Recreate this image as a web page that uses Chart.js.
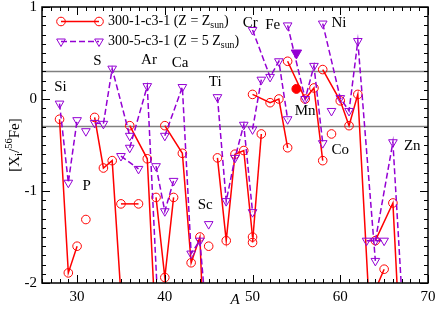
<!DOCTYPE html>
<html>
<head>
<meta charset="utf-8">
<script src="https://cdn.jsdelivr.net/npm/chart.js@4.4.1/dist/chart.umd.min.js"></script>
<style>
  html, body { margin: 0; padding: 0; background: #fff; }
</style>
</head>
<body>
<canvas id="chart" width="436" height="311"></canvas>
<script>
// isotopes grouped by element; lines only join isotopes of one element
const elements = ["Si", "P", "S", "Cl", "Ar", "K", "Ca", "Sc", "Ti", "V", "Cr", "Fe", "Co", "Ni", "Cu", "Zn"];
const isotopes = [
  [28, 29, 30], [31], [32, 33, 34, 36], [35, 37], [36, 38, 40], [39, 40, 41],
  [40, 42, 43, 44, 46, 48], [45], [46, 47, 48, 49, 50], [50, 51], [50, 52, 53, 54],
  [54, 56, 57, 58], [59], [58, 60, 61, 62, 64], [63, 65], [64, 66, 67, 68, 70]
];
// [X_i/56Fe], model 300-1-c3-1 (Z = Zsun)
const zSunValues = [
  [-0.22, -1.89, -1.6], [-1.31], [-0.2, -0.75, -0.67, -3.6], [-1.14, -1.14],
  [-0.29, -0.65, -4.5], [-1.07, -1.94, -1.07], [-0.29, -0.59, -1.78, -1.5, -6.5, -5.0],
  [-1.6], [-0.64, -1.54, -0.6, -0.56, -1.5], [-1.56, -0.38], [0.05, -0.04, 0.0, -0.53],
  [0.41, 0.0, 0.12, -0.67], [-0.38], [0.32, -0.02, -0.29, 0.05, -3.5], [-2.3, -1.85],
  [-1.54, -1.13, -3.0, -3.5, -4.0]
];
// [X_i/56Fe], model 300-5-c3-1 (Z = 5 Zsun)
const z5SunValues = [
  [-0.05, -0.91, -0.23], [-0.35], [-0.26, -0.27, 0.33, -0.4], [-0.62, -0.76],
  [-0.53, 0.14, -3.8], [-0.73, -1.22, -0.89], [-0.4, 0.13, -1.68, -1.54, -3.8, -4.0],
  [-1.36], [0.02, -1.11, -0.64, -0.28, -1.23], [-0.33, 0.21], [0.75, 0.24, 0.41, -0.22],
  [0.8, 0.0, 0.36, -0.48], [-0.13], [0.82, 0.01, -0.13, 0.63, -1.76], [-1.54, -1.54],
  [-1.54, -0.47, -2.1, -2.5, -3.0]
];
// 55Mn, drawn with filled symbols
const mnA = [55];
const mnZSun = [0.11];
const mnZ5Sun = [0.5];

const refLines = [0.3, -0.3];
const xTicks = [30, 40, 50, 60, 70];
const yTicks = [-2, -1, 0, 1];

const labelNames = ["Si", "P", "S", "Ar", "Ca", "Sc", "Ti", "Cr", "Fe", "Mn", "Co", "Ni", "Zn"];
const labelA = [28.1, 31.1, 32.33, 38.2, 41.75, 44.6, 45.75, 49.75, 52.3, 56.0, 60.0, 59.85, 68.2];
const labelY = [0.13, -0.95, 0.41, 0.42, 0.39, -1.15, 0.18, 0.83, 0.8, -0.13, -0.55, 0.82, -0.51];

const RED = "#ff0000";
const VIOLET = "#9400d3";
const FONT = "Liberation Serif";

function makeSets(values, color, dashed, order) {
  return elements.map((el, e) => ({
    label: el,
    data: isotopes[e].map((a, i) => ({ x: a, y: values[e][i] })),
    showLine: true,
    borderColor: color,
    backgroundColor: "transparent",
    borderWidth: 1.5,
    borderDash: dashed ? [6, 3] : [],
    pointStyle: dashed ? "triangle" : "circle",
    pointRotation: dashed ? 180 : 0,
    pointRadius: dashed ? 5 : 4.3,
    pointBorderColor: color,
    pointBackgroundColor: "transparent",
    pointBorderWidth: 1,
    order: order,
  }));
}

const datasets = [
  ...makeSets(zSunValues, RED, false, 2),
  ...makeSets(z5SunValues, VIOLET, true, 1),
  {
    label: "Mn", data: mnA.map((a, i) => ({ x: a, y: mnZSun[i] })),
    pointStyle: "circle", pointRadius: 4.5, pointBackgroundColor: RED, pointBorderColor: RED, order: 0,
  },
  {
    label: "Mn", data: mnA.map((a, i) => ({ x: a, y: mnZ5Sun[i] })),
    pointStyle: "triangle", pointRotation: 180, pointRadius: 6, pointBackgroundColor: VIOLET, pointBorderColor: VIOLET, order: 0,
  },
];

// draws text pieces with sub/superscripts, returns width
function richText(ctx, parts, x, y, size, measureOnly) {
  let w = 0;
  parts.forEach((p) => {
    const s = p.sub || p.sup ? size * 0.7 : size;
    ctx.font = s + "px " + FONT;
    const dy = p.sub ? size * 0.3 : p.sup ? -size * 0.4 : 0;
    if (!measureOnly) ctx.fillText(p.t, x + w, y + dy);
    w += ctx.measureText(p.t).width;
  });
  return w;
}

function glyph(ctx, kind, x, y) {
  ctx.beginPath();
  if (kind === "circle") {
    ctx.arc(x, y, 4.3, 0, Math.PI * 2);
  } else {
    const r = 5;
    ctx.moveTo(x, y + r);
    ctx.lineTo(x - r * Math.sin(Math.PI / 3), y - r / 2);
    ctx.lineTo(x + r * Math.sin(Math.PI / 3), y - r / 2);
    ctx.closePath();
  }
  ctx.stroke();
}

const decorPlugin = {
  id: "decor",
  beforeDatasetsDraw(chart) {
    const { ctx, chartArea: ca, scales } = chart;
    ctx.save();
    ctx.strokeStyle = "#808080";
    ctx.lineWidth = 1.5;
    refLines.forEach((v) => {
      const py = scales.y.getPixelForValue(v);
      ctx.beginPath();
      ctx.moveTo(ca.left, py);
      ctx.lineTo(ca.right, py);
      ctx.stroke();
    });
    ctx.restore();
  },
  afterDatasetsDraw(chart) {
    const { ctx, chartArea: ca, scales } = chart;
    const x = scales.x, y = scales.y;
    ctx.save();
    ctx.strokeStyle = "#000";
    ctx.lineWidth = 1.5;
    ctx.strokeRect(ca.left, ca.top, ca.right - ca.left, ca.bottom - ca.top);

    ctx.lineWidth = 1;
    ctx.beginPath();
    for (let a = x.min; a <= x.max; a += 1) {
      const px = Math.round(x.getPixelForValue(a)) + 0.5;
      const len = a % 10 === 0 ? 8 : 4;
      ctx.moveTo(px, ca.bottom); ctx.lineTo(px, ca.bottom - len);
      ctx.moveTo(px, ca.top); ctx.lineTo(px, ca.top + len);
    }
    for (let k = y.min * 10; k <= y.max * 10; k += 1) {
      const py = Math.round(y.getPixelForValue(k / 10)) + 0.5;
      const len = k % 10 === 0 ? 8 : 4;
      ctx.moveTo(ca.left, py); ctx.lineTo(ca.left + len, py);
      ctx.moveTo(ca.right, py); ctx.lineTo(ca.right - len, py);
    }
    ctx.stroke();

    // element names
    ctx.fillStyle = "#000";
    ctx.font = "15px " + FONT;
    ctx.textAlign = "center";
    ctx.textBaseline = "middle";
    labelNames.forEach((n, i) => {
      ctx.fillText(n, x.getPixelForValue(labelA[i]), y.getPixelForValue(labelY[i]));
    });

    // legend
    ctx.textAlign = "left";
    const rows = [
      { color: RED, dash: [], kind: "circle", y: 21.5,
        parts: [{ t: "300-1-c3-1 (Z = Z" }, { t: "sun", sub: true }, { t: ")" }] },
      { color: VIOLET, dash: [6, 3], kind: "triangle", y: 41.5,
        parts: [{ t: "300-5-c3-1 (Z = 5 Z" }, { t: "sun", sub: true }, { t: ")" }] },
    ];
    rows.forEach((r) => {
      ctx.strokeStyle = r.color;
      ctx.lineWidth = 1.5;
      ctx.setLineDash(r.dash);
      ctx.beginPath();
      ctx.moveTo(61, r.y); ctx.lineTo(99, r.y);
      ctx.stroke();
      ctx.setLineDash([]);
      ctx.lineWidth = 1;
      glyph(ctx, r.kind, 61, r.y);
      glyph(ctx, r.kind, 99, r.y);
      ctx.fillStyle = "#000";
      richText(ctx, r.parts, 108, r.y, 14);
    });

    // axis titles
    ctx.font = "italic 15px " + FONT;
    ctx.textAlign = "center";
    ctx.fillText("A", (ca.left + ca.right) / 2, 300);

    ctx.translate(15, (ca.top + ca.bottom) / 2);
    ctx.rotate(-Math.PI / 2);
    ctx.textAlign = "left";
    const yParts = [{ t: "[X" }, { t: "i", sub: true }, { t: "/" }, { t: "56", sup: true }, { t: "Fe]" }];
    const w = richText(ctx, yParts, 0, 0, 15, true);
    richText(ctx, yParts, -w / 2, 0, 15);
    ctx.restore();
  },
};

new Chart(document.getElementById("chart").getContext("2d"), {
  type: "scatter",
  data: { datasets: datasets },
  options: {
    responsive: false,
    animation: false,
    devicePixelRatio: 1,
    layout: { padding: { top: 5, right: 8, left: 0, bottom: 0 } },
    plugins: { legend: { display: false }, tooltip: { enabled: false } },
    scales: {
      x: {
        type: "linear", min: 26, max: 70,
        grid: { display: false, drawTicks: false },
        border: { display: false },
        ticks: { font: { family: FONT, size: 15 }, color: "#000", padding: 5 },
        afterBuildTicks: (s) => { s.ticks = xTicks.map((v) => ({ value: v })); },
        afterFit: (s) => { s.height = 28; s.paddingLeft = 0; s.paddingRight = 0; },
      },
      y: {
        type: "linear", min: -2, max: 1,
        grid: { display: false, drawTicks: false },
        border: { display: false },
        ticks: { font: { family: FONT, size: 15 }, color: "#000", padding: 5 },
        afterBuildTicks: (s) => { s.ticks = yTicks.map((v) => ({ value: v })); },
        afterFit: (s) => { s.width = 42; s.paddingTop = 0; s.paddingBottom = 0; },
      },
    },
  },
  plugins: [decorPlugin],
});
</script>
</body>
</html>
